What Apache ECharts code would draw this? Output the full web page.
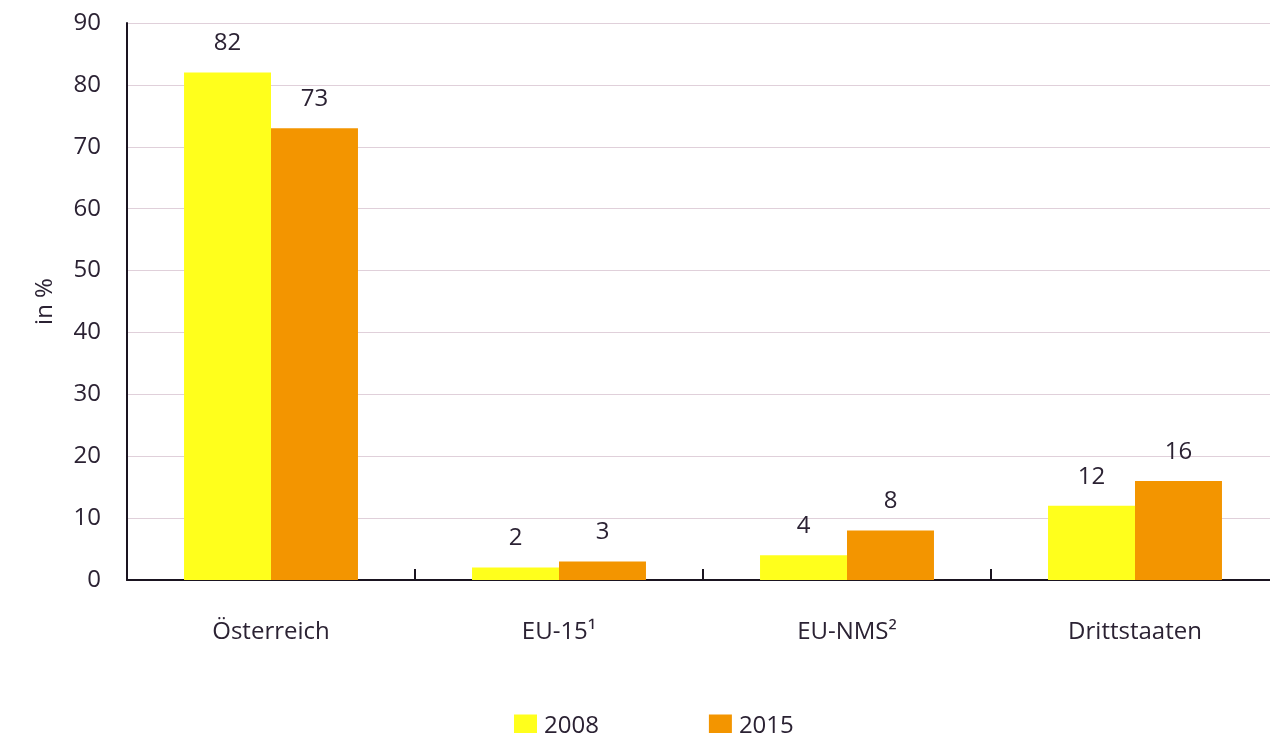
<!DOCTYPE html>
<html><head><meta charset="utf-8">
<script src="https://cdn.jsdelivr.net/npm/echarts@6/dist/echarts.min.js"></script>
<style>html,body{margin:0;padding:0;background:#fff;overflow:hidden}#c{width:1290px;height:733px}</style>
</head><body><div id="c"></div>
<script>
const categories = ['Österreich', 'EU-15¹', 'EU-NMS²', 'Drittstaaten'];
const seriesNames = ['2008', '2015'];
const values2008 = [82, 2, 4, 12];
const values2015 = [73, 3, 8, 16];
const yTicks = [0, 10, 20, 30, 40, 50, 60, 70, 80, 90];

const txt = '#2b2233';
const font = 'Open Sans';
const fs = 24;
const chart = echarts.init(document.getElementById('c'), null, {renderer: 'canvas'});
const lbl = {show: true, position: 'top', distance: 17, color: txt, fontSize: fs, fontFamily: font};
chart.setOption({
  animation: false,
  textStyle: {fontFamily: font},
  grid: {left: 127, top: 23, width: 1152, height: 557, containLabel: false},
  legend: {
    left: 509, top: 709, itemWidth: 23, itemHeight: 23, itemGap: 110,
    icon: 'rect',
    textStyle: {color: txt, fontSize: fs, fontFamily: font, padding: [0, 0, 0, 2]},
    data: seriesNames
  },
  xAxis: {
    type: 'category', data: categories,
    axisLine: {lineStyle: {color: '#1a1420', width: 2}},
    axisTick: {show: true, inside: true, length: 11, lineStyle: {color: '#1a1420', width: 2}},
    axisLabel: {color: txt, fontSize: fs, fontFamily: font, margin: 40}
  },
  yAxis: {
    type: 'value', min: yTicks[0], max: yTicks[yTicks.length - 1], interval: 10,
    name: 'in %', nameLocation: 'middle', nameGap: 70, nameRotate: 90,
    nameTextStyle: {color: txt, fontSize: fs, fontFamily: font},
    axisLine: {show: true, lineStyle: {color: '#1a1420', width: 2}},
    axisTick: {show: false},
    axisLabel: {color: txt, fontSize: fs, fontFamily: font, margin: 26},
    splitLine: {lineStyle: {color: '#e0d0da', width: 1.2}}
  },
  series: [
    {name: seriesNames[0], type: 'bar', data: values2008, barGap: '0%', barCategoryGap: '39.6%',
     itemStyle: {color: '#ffff1c'}, label: lbl},
    {name: seriesNames[1], type: 'bar', data: values2015, barGap: '0%', barCategoryGap: '39.6%',
     itemStyle: {color: '#f39500'}, label: lbl}
  ]
});
</script></body></html>
